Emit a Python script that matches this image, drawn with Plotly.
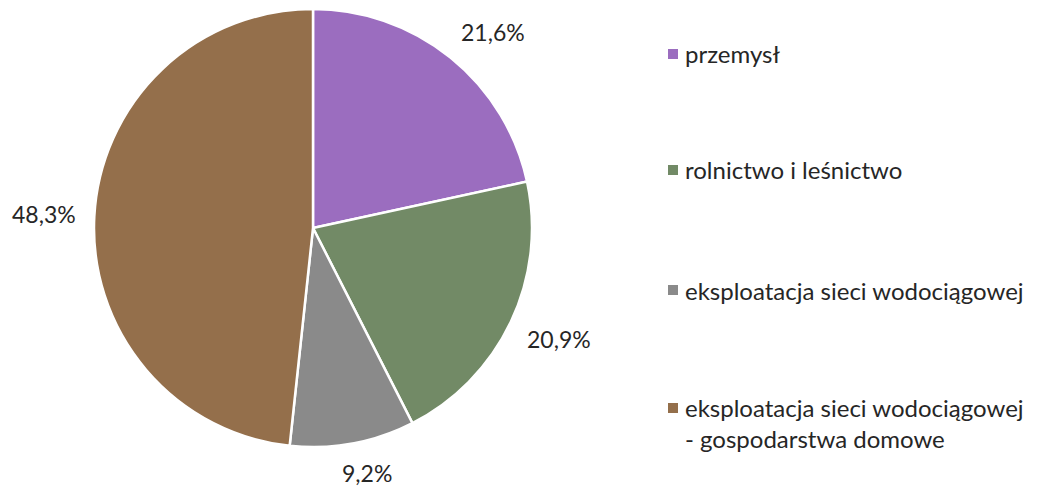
import math
import plotly.graph_objects as go

# Struktura poboru wody wg sektorów
categories = [
    "przemysł",
    "rolnictwo i leśnictwo",
    "eksploatacja sieci wodociągowej",
    "eksploatacja sieci wodociągowej<br>- gospodarstwa domowe",
]
values = [21.6, 20.9, 9.2, 48.3]
value_labels = ["21,6%", "20,9%", "9,2%", "48,3%"]
colors = ["#9B6DBF", "#728A66", "#8A8A8A", "#946F4B"]

W, H = 1038, 487
FONT = "Lato"
TEXT_COLOR = "#262626"

CX, CY = 313, 228      # środek koła (px)
R_PIE = 219            # promień koła
R_LABEL = 238          # odległość zaczepienia etykiet od środka
LABEL_HALF_W, LABEL_HALF_H = 31, 11

fig = go.Figure()
fig.add_trace(go.Pie(
    labels=categories,
    values=values,
    textinfo="none",
    sort=False,
    direction="clockwise",
    rotation=0,
    marker=dict(colors=colors, line=dict(color="white", width=2.5)),
    domain=dict(x=[(CX - R_PIE) / W, (CX + R_PIE) / W],
                y=[1 - (CY + R_PIE) / H, 1 - (CY - R_PIE) / H]),
    showlegend=False,
    hoverinfo="label+percent",
))

# Etykiety wartości na zewnątrz wycinków, w połowie ich kąta
total = sum(values)
cum = 0.0
for v, lab in zip(values, value_labels):
    theta = 2 * math.pi * (cum + v / 2) / total
    cum += v
    s, c = math.sin(theta), math.cos(theta)
    px = CX + R_LABEL * s + LABEL_HALF_W * max(-1.0, min(1.0, 2 * s))
    py = CY - R_LABEL * c - LABEL_HALF_H * max(-1.0, min(1.0, 2 * c))
    fig.add_annotation(
        x=px / W, y=1 - py / H, xref="paper", yref="paper",
        text=lab, showarrow=False, xanchor="center", yanchor="middle",
        font=dict(family=FONT, size=23, color=TEXT_COLOR),
    )

# Legenda po prawej stronie: kwadrat + opis
legend_y = [54, 170, 290, 408]
for name, col, y in zip(categories, colors, legend_y):
    fig.add_shape(
        type="rect", xref="paper", yref="paper",
        x0=668 / W, x1=678 / W, y0=1 - (y + 5) / H, y1=1 - (y - 5) / H,
        fillcolor=col, line=dict(width=0),
    )
    fig.add_annotation(
        x=683 / W, y=1 - y / H, xref="paper", yref="paper",
        text=name, showarrow=False, xanchor="left",
        yanchor="top" if "<br>" in name else "middle",
        yshift=17 if "<br>" in name else 0,
        align="left",
        font=dict(family=FONT, size=24, color=TEXT_COLOR),
    )

fig.update_layout(
    width=W, height=H,
    margin=dict(l=0, r=0, t=0, b=0),
    paper_bgcolor="white",
    plot_bgcolor="white",
)

fig.write_html("out.html")
